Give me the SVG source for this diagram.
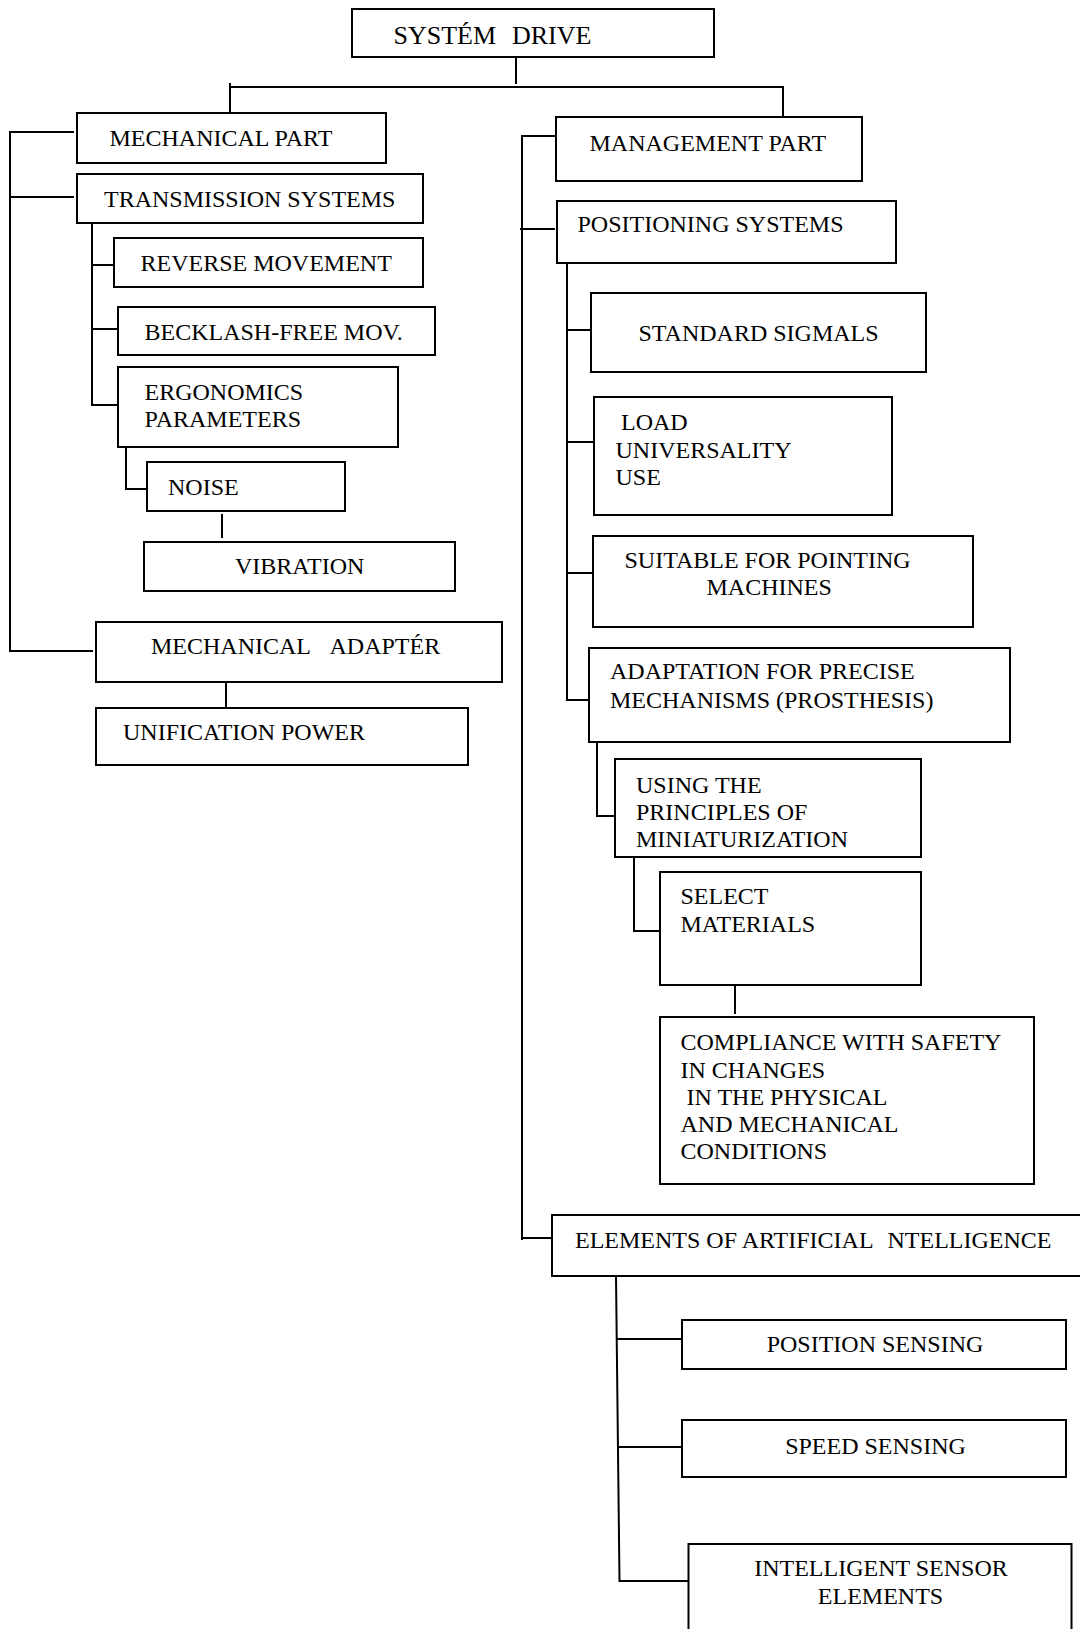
<svg xmlns="http://www.w3.org/2000/svg" width="1080" height="1629" viewBox="0 0 1080 1629">
  <style>
    .box { fill: #ffffff; stroke: #000000; stroke-width: 2; }
    .wire { fill: none; stroke: #000000; stroke-width: 2; }
    text { font-family: "Liberation Serif", "Times New Roman", serif; font-size: 24px; fill: #000000; }
    .title { font-size: 26px; }
    .mid { text-anchor: middle; }
  </style>
  <rect width="1080" height="1629" fill="#ffffff"/>

  <!-- connectors -->
  <g id="connectors">
    <!-- root to the two main branches -->
    <path class="wire" d="M516 57 V84"/>
    <path class="wire" d="M230 87 H783 V117"/>
    <path class="wire" d="M230 83 V113"/>
    <!-- mechanical part bracket -->
    <path class="wire" d="M74 132 H10 V651 H93"/>
    <path class="wire" d="M10 197 H74"/>
    <!-- transmission systems children -->
    <path class="wire" d="M92 223 V405 H118"/>
    <path class="wire" d="M92 265 H114"/>
    <path class="wire" d="M92 329 H118"/>
    <path class="wire" d="M126 447 V489 H147"/>
    <path class="wire" d="M222 514 V538"/>
    <path class="wire" d="M226 682 V708"/>
    <!-- management part bracket -->
    <path class="wire" d="M556 136 H522 V1240"/>
    <path class="wire" d="M520 229 H555"/>
    <path class="wire" d="M522 1238 H552"/>
    <!-- positioning systems children -->
    <path class="wire" d="M567 263 V700 H589"/>
    <path class="wire" d="M567 330 H593"/>
    <path class="wire" d="M567 442 H594"/>
    <path class="wire" d="M567 573 H593"/>
    <path class="wire" d="M597 741 V816 H617"/>
    <path class="wire" d="M634 857 V931 H660"/>
    <path class="wire" d="M735 985 V1014"/>
    <!-- artificial intelligence children -->
    <path class="wire" d="M616 1276 L619.5 1581 H688"/>
    <path class="wire" d="M616 1339 H682"/>
    <path class="wire" d="M617 1447 H682"/>
  </g>

  <!-- root -->
  <g id="system-drive">
    <rect class="box" x="352" y="9" width="362" height="48"/>
    <text class="title" x="393.5" y="43.5">SYSTÉM</text>
    <text class="title" x="512" y="43.5">DRIVE</text>
  </g>

  <!-- mechanical branch -->
  <g id="mechanical-part">
    <rect class="box" x="77" y="113" width="309" height="50"/>
    <text x="109.5" y="146">MECHANICAL PART</text>
  </g>
  <g id="transmission-systems">
    <rect class="box" x="77" y="174" width="346" height="49"/>
    <text x="104" y="207">TRANSMISSION SYSTEMS</text>
  </g>
  <g id="reverse-movement">
    <rect class="box" x="114" y="238" width="309" height="49"/>
    <text x="140.5" y="271">REVERSE MOVEMENT</text>
  </g>
  <g id="backlash-free">
    <rect class="box" x="118" y="307" width="317" height="48"/>
    <text x="144.5" y="339.5">BECKLASH-FREE MOV.</text>
  </g>
  <g id="ergonomics">
    <rect class="box" x="118" y="367" width="280" height="80"/>
    <text x="144.5" y="400">ERGONOMICS</text>
    <text x="144.5" y="426.5">PARAMETERS</text>
  </g>
  <g id="noise">
    <rect class="box" x="147" y="462" width="198" height="49"/>
    <text x="168" y="494.5">NOISE</text>
  </g>
  <g id="vibration">
    <rect class="box" x="144" y="542" width="311" height="49"/>
    <text x="235" y="573.5">VIBRATION</text>
  </g>
  <g id="mechanical-adapter">
    <rect class="box" x="96" y="622" width="406" height="60"/>
    <text x="151" y="653.5">MECHANICAL</text>
    <text x="329.5" y="653.5">ADAPTÉR</text>
  </g>
  <g id="unification-power">
    <rect class="box" x="96" y="708" width="372" height="57"/>
    <text x="123" y="740">UNIFICATION POWER</text>
  </g>

  <!-- management branch -->
  <g id="management-part">
    <rect class="box" x="556" y="117" width="306" height="64"/>
    <text x="589.5" y="151">MANAGEMENT PART</text>
  </g>
  <g id="positioning-systems">
    <rect class="box" x="557" y="201" width="339" height="62"/>
    <text x="577.5" y="232">POSITIONING SYSTEMS</text>
  </g>
  <g id="standard-signals">
    <rect class="box" x="591" y="293" width="335" height="79"/>
    <text x="638.5" y="341">STANDARD SIGMALS</text>
  </g>
  <g id="load-universality">
    <rect class="box" x="594" y="397" width="298" height="118"/>
    <text x="621" y="429.5">LOAD</text>
    <text x="615.5" y="457.5">UNIVERSALITY</text>
    <text x="615.5" y="484.5">USE</text>
  </g>
  <g id="pointing-machines">
    <rect class="box" x="593" y="536" width="380" height="91"/>
    <text x="624.5" y="567.5">SUITABLE FOR POINTING</text>
    <text x="706.5" y="595">MACHINES</text>
  </g>
  <g id="precise-mechanisms">
    <rect class="box" x="589" y="648" width="421" height="94"/>
    <text x="610" y="679">ADAPTATION FOR PRECISE</text>
    <text x="610" y="707.5">MECHANISMS (PROSTHESIS)</text>
  </g>
  <g id="miniaturization">
    <rect class="box" x="615" y="759" width="306" height="98"/>
    <text x="636" y="792.5">USING THE</text>
    <text x="636" y="820">PRINCIPLES OF</text>
    <text x="636" y="846.5">MINIATURIZATION</text>
  </g>
  <g id="select-materials">
    <rect class="box" x="660" y="872" width="261" height="113"/>
    <text x="680.5" y="904">SELECT</text>
    <text x="680.5" y="931.5">MATERIALS</text>
  </g>
  <g id="safety-compliance">
    <rect class="box" x="660" y="1017" width="374" height="167"/>
    <text x="680.5" y="1049.5">COMPLIANCE WITH SAFETY</text>
    <text x="680.5" y="1077.5">IN CHANGES</text>
    <text x="686.5" y="1104.5">IN THE PHYSICAL</text>
    <text x="680.5" y="1131.5">AND MECHANICAL</text>
    <text x="680.5" y="1158.5">CONDITIONS</text>
  </g>
  <g id="artificial-intelligence">
    <rect class="box" x="552" y="1215" width="540" height="61"/>
    <text x="575" y="1248">ELEMENTS OF ARTIFICIAL</text>
    <text x="887.5" y="1248">NTELLIGENCE</text>
  </g>
  <g id="position-sensing">
    <rect class="box" x="682" y="1320" width="384" height="49"/>
    <text class="mid" x="875" y="1352">POSITION SENSING</text>
  </g>
  <g id="speed-sensing">
    <rect class="box" x="682" y="1420" width="384" height="57"/>
    <text class="mid" x="875.5" y="1453.5">SPEED SENSING</text>
  </g>
  <g id="intelligent-sensors">
    <rect class="box" x="688.5" y="1544" width="383" height="100"/>
    <text class="mid" x="881" y="1576">INTELLIGENT SENSOR</text>
    <text class="mid" x="880.5" y="1603.5">ELEMENTS</text>
  </g>
</svg>
